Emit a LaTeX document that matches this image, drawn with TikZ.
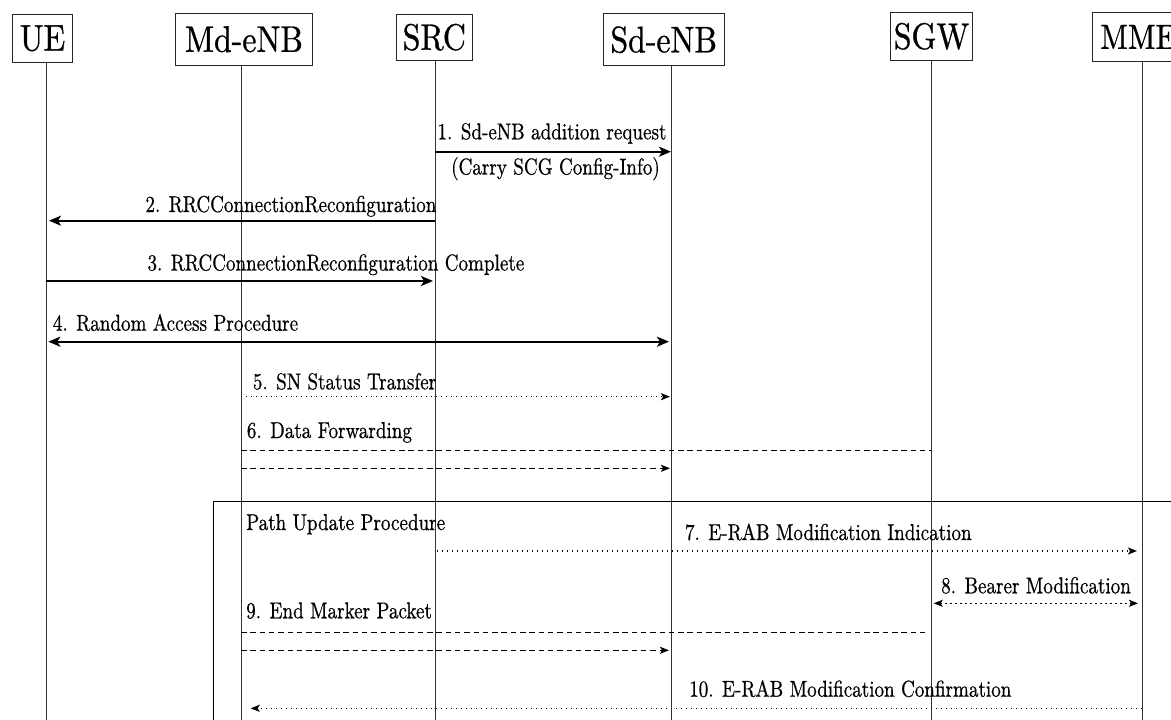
\documentclass[tikz,border=0pt]{standalone}
\usepackage{fontspec}
\setmainfont{lmroman10-regular.otf}
\newfontfamily\hdrfont[FakeStretch=0.86,FakeBold=0.8]{lmroman10-regular.otf}
\newfontfamily\msgfont[FakeStretch=0.83,FakeBold=0.6]{lmroman10-regular.otf}
\usetikzlibrary{arrows.meta}

\tikzset{
  hdr/.style={draw=black!85, line width=1pt, inner sep=0pt,
    font={\hdrfont\fontsize{37}{40}\selectfont}},
  life/.style={line width=1pt, draw=black!80},
  lbl/.style={inner sep=0pt, anchor=base west,
    font={\msgfont\fontsize{23}{27}\selectfont}},
  bigtip/.tip={Stealth[length=12pt,width=10pt,inset=3pt]},
  smalltip/.tip={Stealth[length=9pt,width=7pt,inset=2pt]},
  solidmsg/.style={line width=2pt},
  dotmsg/.style={line width=1.3pt, dash pattern=on 1.3pt off 3.7pt},
  dashmsg/.style={line width=1.4pt, dash pattern=on 5.5pt off 3.8pt},
  framebox/.style={line width=1.2pt}
}

\begin{document}
\begin{tikzpicture}[x=1pt, y=-1pt]
\useasboundingbox (0,0) rectangle (1171,720);
\clip (0,0) rectangle (1171,720);

% entity boxes
\node[hdr, minimum width=60.4pt,  minimum height=48pt]   (ue)  at (42.5,38.3)  {UE};
\node[hdr, minimum width=137pt,   minimum height=51.7pt] (md)  at (243.9,39.2) {Md-eNB};
\node[hdr, minimum width=75.4pt,  minimum height=45.7pt] (src) at (434.3,37.2) {SRC};
\node[hdr, minimum width=120.7pt, minimum height=52pt]   (sd)  at (663.7,39.7) {Sd-eNB};
\node[hdr, minimum width=81.6pt,  minimum height=48pt]   (sgw) at (931.5,36.3) {SGW};
\node[hdr, anchor=west, inner xsep=2pt, minimum width=92pt, minimum height=48.3pt,
  font={\hdrfont\fontsize{35}{38}\selectfont}]
  (mme) at (1091.7,36.9) {MME};

% lifeline feet
\coordinate (ueB)  at (46,720);
\coordinate (mdB)  at (241,720);
\coordinate (srcB) at (435,720);
\coordinate (sdB)  at (671,720);
\coordinate (sgwB) at (931,720);
\coordinate (mmeB) at (1142,720);

\draw[life] (ue.south -| ueB) -- (ueB);
\draw[life] (md.south -| mdB) -- (mdB);
\draw[life] (src.south -| srcB) -- (srcB);
\draw[life] (sd.south -| sdB) -- (sdB);
\draw[life] (sgw.south -| sgwB) -- (sgwB);
\draw[life] (mme.south -| mmeB) -- (mmeB);

% path update frame
\draw[framebox] (213.7,740) |- (1200,501.7);

% 1
\draw[solidmsg, -bigtip] (srcB |- 0,151.7) -- (sdB |- 0,151.7);
\node[lbl, anchor=base] (m1)  at (552,139.3) {1. Sd-eNB addition request};
\node[lbl, anchor=base] (m1b) at (555.5,174.5) {(Carry SCG Config-Info)};
% 2
\draw[solidmsg, -bigtip, shorten >=3pt] (srcB |- 0,220.7) -- (ueB |- 0,220.7);
\node[lbl, anchor=base east] (m2) at (436.6,212) {2. RRCConnectionReconfiguration};
% 3
\draw[solidmsg, -bigtip, shorten >=2pt] (ueB |- 0,281) -- (srcB |- 0,281);
\node[lbl] (m3) at (147.3,270.5) {3. RRCConnectionReconfiguration Complete};
% 4
\draw[solidmsg, bigtip-bigtip, shorten <=2.3pt, shorten >=2pt] (ueB |- 0,341.7) -- (sdB |- 0,341.7);
\node[lbl] (m4) at (52.7,330.7) {4. Random Access Procedure};
% 5
\draw[dotmsg, -smalltip, shorten >=1pt] (mdB |- 0,396.7) -- (sdB |- 0,396.7);
\node[lbl] (m5) at (252.7,389.3) {5. SN Status Transfer};
% 6
\node[lbl] (m6) at (246.7,438) {6. Data Forwarding};
\draw[dashmsg] (mdB |- 0,450.7) -- (sgwB |- 0,450.7);
\draw[dashmsg, -smalltip, shorten >=1pt] (mdB |- 0,468.3) -- (sdB |- 0,468.3);

\node[lbl] (pu) at (246,530) {Path Update Procedure};
% 7
\draw[dotmsg, -smalltip, shorten <=2pt, shorten >=5pt] (srcB |- 0,551) -- (mmeB |- 0,551);
\node[lbl] (m7) at (684.8,540) {7. E-RAB Modification Indication};
% 8
\draw[dotmsg, smalltip-smalltip, shorten <=2.7pt, shorten >=4pt] (sgwB |- 0,603.3) -- (mmeB |- 0,603.3);
\node[lbl] (m8) at (941,593.3) {8. Bearer Modification};
% 9
\node[lbl] (m9) at (246,618.3) {9. End Marker Packet};
\draw[dashmsg, shorten >=6.5pt] (mdB |- 0,632.5) -- (sgwB |- 0,632.5);
\draw[dashmsg, -smalltip, shorten >=2pt] (mdB |- 0,650.3) -- (sdB |- 0,650.3);
% 10
\draw[dotmsg, -smalltip, shorten >=9.7pt] (mmeB |- 0,708.3) -- (mdB |- 0,708.3);
\node[lbl] (m10) at (689,696.7) {10. E-RAB Modification Confirmation};
\end{tikzpicture}
\end{document}
